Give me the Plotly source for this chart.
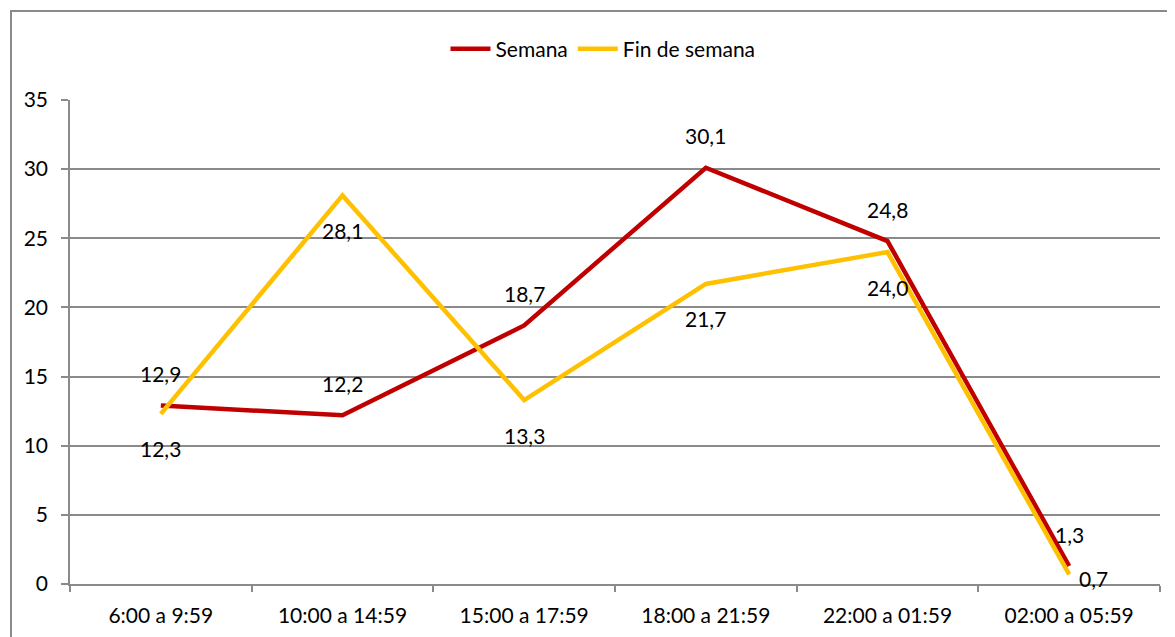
import plotly.graph_objects as go

categories = ["6:00 a 9:59", "10:00 a 14:59", "15:00 a 17:59", "18:00 a 21:59", "22:00 a 01:59", "02:00 a 05:59"]
semana = [12.9, 12.2, 18.7, 30.1, 24.8, 1.3]
fin_de_semana = [12.3, 28.1, 13.3, 21.7, 24.0, 0.7]
y_ticks = [0, 5, 10, 15, 20, 25, 30, 35]

FONT = "Lato, Open Sans, sans-serif"
FS = 21
GRID = "#8a8a8a"
RED = "#C00000"
GOLD = "#FFC000"

# page body has an 8px margin; figure is placed at (8, 8)
OFF = 8
W, H = 1175 - OFF, 637 - OFF
L, R, T, B = 70 - OFF, 15, 100 - OFF, 53
PW, PH = W - L - R, H - T - B

def fmt(v):
    return f"{v:.1f}".replace(".", ",")

fig = go.Figure()
fig.add_trace(go.Scatter(x=categories, y=semana, name="Semana", mode="lines",
                         line=dict(color=RED, width=4.5)))
fig.add_trace(go.Scatter(x=categories, y=fin_de_semana, name="Fin de semana", mode="lines",
                         line=dict(color=GOLD, width=4.5)))

# label placement styles (Semana above, Fin de semana below, last weekend label to the right)
sem_shift = [(0, 32)] * len(semana)
fds_shift = [(0, -35)] * (len(fin_de_semana) - 1) + [(24, -4)]

annotations = []
for c, v, (dx, dy) in zip(categories, semana, sem_shift):
    annotations.append(dict(x=c, y=v, text=fmt(v), showarrow=False, xshift=dx, yshift=dy,
                            font=dict(family=FONT, size=FS, color="black")))
for c, v, (dx, dy) in zip(categories, fin_de_semana, fds_shift):
    annotations.append(dict(x=c, y=v, text=fmt(v), showarrow=False, xshift=dx, yshift=dy,
                            font=dict(family=FONT, size=FS, color="black")))

def px_x(sx):
    return (sx - OFF - L) / PW

def px_y(sy):
    return (T + PH - (sy - OFF)) / PH

fig.update_layout(
    width=W, height=H,
    margin=dict(l=L, r=R, t=T, b=B, autoexpand=False),
    paper_bgcolor="white", plot_bgcolor="white",
    font=dict(family=FONT, size=FS, color="black"),
    showlegend=True,
    legend=dict(orientation="h", x=px_x(603), y=px_y(49), xanchor="center", yanchor="middle",
                font=dict(family=FONT, size=FS, color="black"), bgcolor="rgba(0,0,0,0)",
                itemwidth=40, tracegroupgap=0),
    annotations=annotations,
    shapes=[dict(type="rect", xref="paper", yref="paper",
                 x0=px_x(11), x1=px_x(1185),
                 y0=px_y(660), y1=px_y(11),
                 line=dict(color=GRID, width=2), layer="below")],
)
fig.update_xaxes(type="category", showgrid=False, showline=True, linecolor=GRID, linewidth=1.5,
                 ticks="outside", tickson="boundaries", ticklen=6, tickcolor=GRID, tickwidth=1.5,
                 tickfont=dict(family=FONT, size=FS, color="black"), ticklabelstandoff=12,
                 range=[-0.5, len(categories) - 0.5])
fig.update_yaxes(range=[0, 35], tickvals=y_ticks, showgrid=True, gridcolor=GRID, gridwidth=1.5,
                 showline=True, linecolor=GRID, linewidth=1.5, zeroline=False,
                 ticks="outside", ticklen=7, tickcolor=GRID, tickwidth=1.5,
                 tickfont=dict(family=FONT, size=FS, color="black"), ticklabelstandoff=9)

fig.write_html("out.html")
